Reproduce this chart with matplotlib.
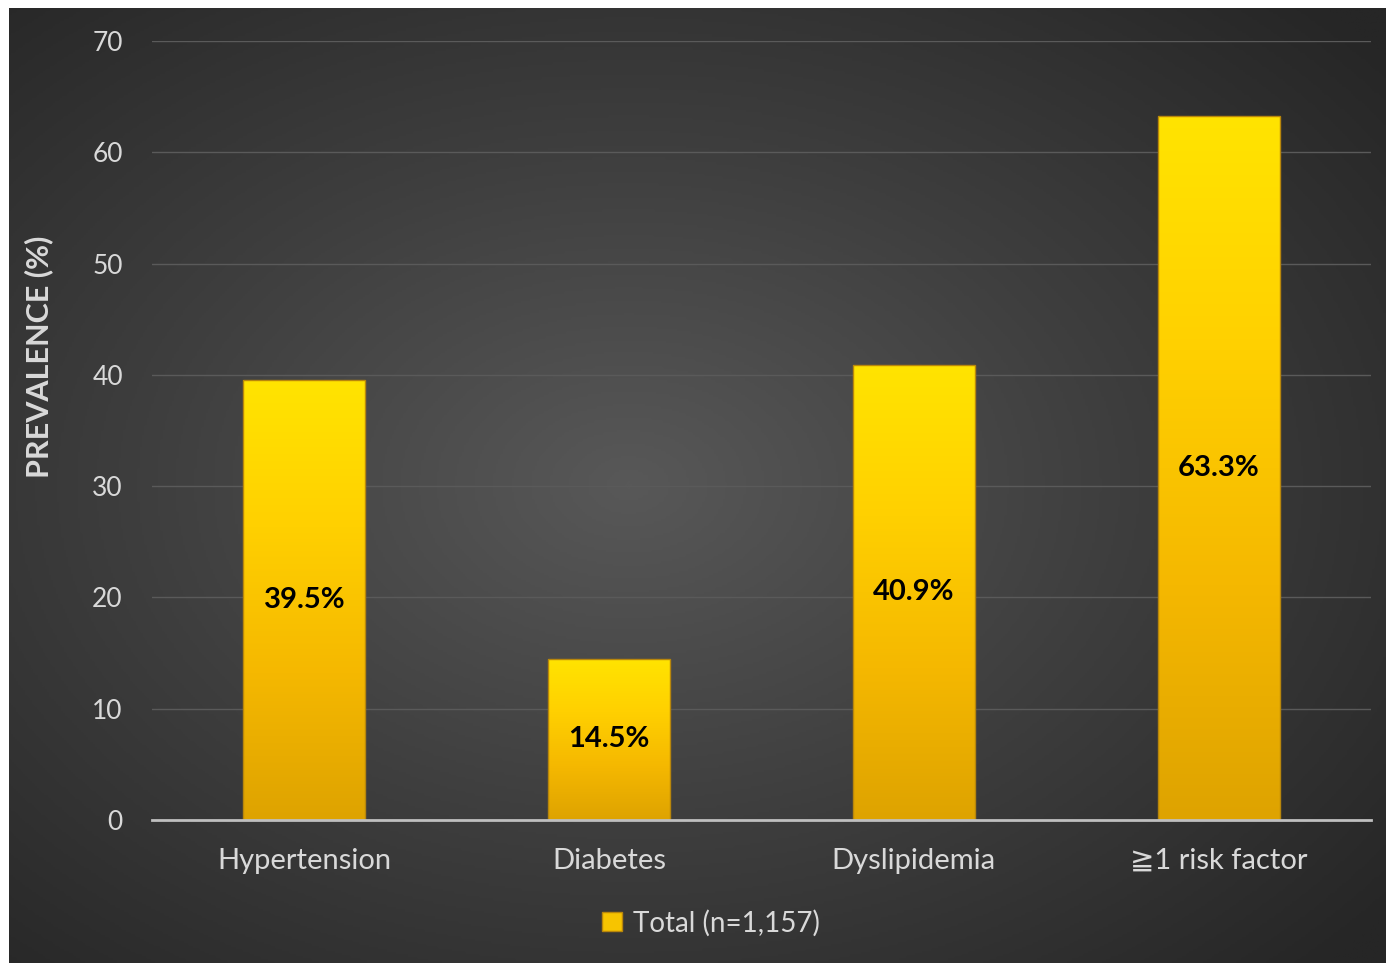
import numpy as np
import matplotlib
matplotlib.use("Agg")
import matplotlib.pyplot as plt
from matplotlib.colors import LinearSegmentedColormap

plt.rcParams['font.family'] = ['Lato', 'DejaVu Sans']

categories = ["Hypertension", "Diabetes", "Dyslipidemia", "\u22671 risk factor"]
prevalence = [39.5, 14.5, 40.9, 63.3]
value_labels = ["39.5%", "14.5%", "40.9%", "63.3%"]
y_ticks = [0, 10, 20, 30, 40, 50, 60, 70]
series_name = "Total (n=1,157)"

W, H = 1386, 963
fig = plt.figure(figsize=(W / 100, H / 100), dpi=100)
fig.patch.set_facecolor("white")

# Dark radial-gradient backdrop
bg = fig.add_axes([9 / W, 0, 1 - 9 / W, 1 - 8 / H])
bg.set_axis_off()
yy, xx = np.mgrid[0:1:400j, 0:1:600j]
r = np.sqrt(((xx - 0.45) / 0.75) ** 2 + ((yy - 0.5) / 0.75) ** 2)
r = np.clip(r / 0.95, 0, 1)
bg_cmap = LinearSegmentedColormap.from_list("bg", ["#585858", "#3e3e3e", "#262626"])
bg.imshow(r, cmap=bg_cmap, extent=[0, 1, 0, 1], aspect="auto", origin="lower")
bg.set_xlim(0, 1)
bg.set_ylim(0, 1)

ax = fig.add_axes([152 / W, 1 - 820 / H, (1371 - 152) / W, (820 - 41) / H])
ax.patch.set_alpha(0)

x = np.arange(len(categories))
bars = ax.bar(x, prevalence, width=0.4, color="none", edgecolor="#b8860b",
              linewidth=1.0, zorder=3)

bar_cmap = LinearSegmentedColormap.from_list(
    "bar", ["#dea300", "#f5b800", "#ffd000", "#ffe400"])
grad = np.linspace(0, 1, 256).reshape(-1, 1)
for b in bars:
    x0, w, h = b.get_x(), b.get_width(), b.get_height()
    im = ax.imshow(grad, cmap=bar_cmap, extent=[x0, x0 + w, 0, h],
                   aspect="auto", origin="lower", zorder=2)
    im.set_clip_path(b)

for xi, v, lab in zip(x, prevalence, value_labels):
    ax.text(xi, v / 2, lab, ha="center", va="center", fontsize=21,
            fontweight="bold", color="black", zorder=4)

ax.set_xlim(-0.5, len(categories) - 0.5)
ax.set_ylim(0, 70)
ax.set_yticks(y_ticks)
ax.set_xticks(x)
ax.set_xticklabels(categories)
ax.tick_params(axis="y", length=0, pad=21, labelsize=19, labelcolor="#d9d9d9")
ax.tick_params(axis="x", length=0, pad=20, labelsize=21, labelcolor="#d9d9d9")
ax.grid(axis="y", color="#5a5a5a", linewidth=1.0, zorder=0)
ax.set_axisbelow(True)
for s in ["top", "right", "left"]:
    ax.spines[s].set_visible(False)
ax.spines["bottom"].set_color("#bfbfbf")
ax.spines["bottom"].set_linewidth(2)
ax.spines["bottom"].set_zorder(5)

ax.set_ylabel("PREVALENCE (%)", fontsize=22, fontweight="bold", color="#d9d9d9")
ax.yaxis.set_label_coords((53 - 152) / 1219, (820 - 357) / 779)

# Legend
leg_handle = plt.Rectangle((0, 0), 1, 1, facecolor="#f7c400", edgecolor="#b8860b")
leg = fig.legend([leg_handle], [series_name], loc="center",
                 bbox_to_anchor=(711 / W, 1 - 923 / H), frameon=False,
                 fontsize=20, handlelength=0.7, handleheight=0.7,
                 handletextpad=0.4, labelcolor="#d9d9d9")

fig.savefig("out.png", dpi=100)
